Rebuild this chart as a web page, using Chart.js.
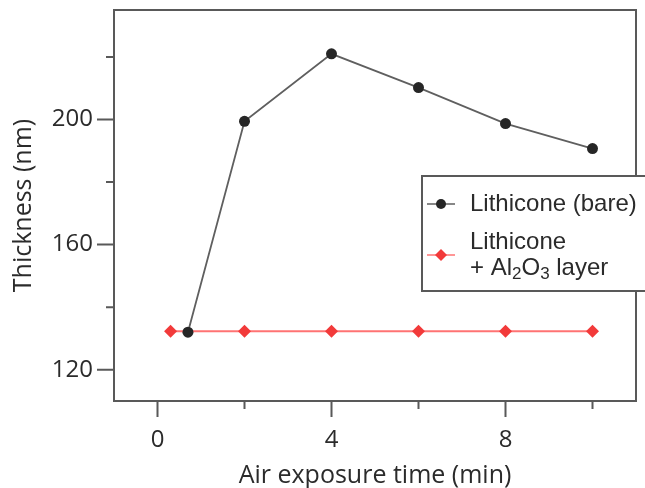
<!DOCTYPE html>
<html>
<head>
<meta charset="utf-8">
<script src="https://cdn.jsdelivr.net/npm/chart.js@4/dist/chart.umd.min.js"></script>
<style>
  html, body { margin: 0; padding: 0; background: #fff; }
  #wrap { width: 645px; height: 488px; }
</style>
</head>
<body>
<div id="wrap"><canvas id="thicknessChart"></canvas></div>
<script>
const bareTimes = [0.7, 2, 4, 6, 8, 10];
const bareThickness = [132.0, 199.4, 221.0, 210.2, 198.7, 190.7];
const coatedTimes = [0.3, 2, 4, 6, 8, 10];
const coatedThickness = [132.3, 132.3, 132.3, 132.3, 132.3, 132.3];

const xTicks = [0, 2, 4, 6, 8, 10];
const xLabeled = [0, 4, 8];
const yTicks = [120, 140, 160, 180, 200, 220];
const yLabeled = [120, 160, 200];

const colors = {
  frame: '#595959',
  text: '#2b2b2b',
  bareLine: '#5f5f5f',
  bareDot: '#262626',
  coatedLine: '#ff7373',
  coatedDot: '#f23a3a'
};

const tickFont = { family: '"Open Sans", sans-serif', size: 24 };
const titleFont = { family: '"Open Sans", sans-serif', size: 25, lineHeight: 1.0 };

// frame around the plot area plus outward tick marks of two lengths
const framePlugin = {
  id: 'frame',
  afterDraw(chart) {
    const { ctx, chartArea: a, scales } = chart;
    ctx.save();
    ctx.strokeStyle = colors.frame;
    ctx.lineWidth = 2;
    ctx.strokeRect(a.left, a.top, a.right - a.left, a.bottom - a.top);
    ctx.beginPath();
    xTicks.forEach(v => {
      const x = scales.x.getPixelForValue(v);
      const len = xLabeled.includes(v) ? 16 : 8;
      ctx.moveTo(x, a.bottom);
      ctx.lineTo(x, a.bottom + len);
    });
    yTicks.forEach(v => {
      const y = scales.y.getPixelForValue(v);
      const len = yLabeled.includes(v) ? 17 : 8;
      ctx.moveTo(a.left, y);
      ctx.lineTo(a.left - len, y);
    });
    ctx.stroke();
    ctx.restore();
  }
};

// boxed legend with a two-line entry carrying subscripts
const legendPlugin = {
  id: 'boxLegend',
  afterDraw(chart) {
    const { ctx } = chart;
    const ds = chart.data.datasets;
    const box = { x: 422, y: 176, w: 240, h: 115 };
    ctx.save();
    ctx.fillStyle = '#fff';
    ctx.fillRect(box.x, box.y, box.w, box.h);
    ctx.strokeStyle = colors.frame;
    ctx.lineWidth = 2;
    ctx.strokeRect(box.x, box.y, box.w, box.h);

    const sample = (y, line, dot, style) => {
      ctx.strokeStyle = line;
      ctx.lineWidth = 1.5;
      ctx.beginPath();
      ctx.moveTo(427, y);
      ctx.lineTo(455, y);
      ctx.stroke();
      ctx.fillStyle = dot;
      ctx.beginPath();
      if (style === 'circle') {
        ctx.arc(441, y, 5, 0, Math.PI * 2);
      } else {
        ctx.moveTo(441, y - 6);
        ctx.lineTo(447, y);
        ctx.lineTo(441, y + 6);
        ctx.lineTo(435, y);
        ctx.closePath();
      }
      ctx.fill();
    };

    sample(204, ds[0].borderColor, ds[0].pointBackgroundColor, 'circle');
    sample(255, ds[1].borderColor, ds[1].pointBackgroundColor, 'diamond');

    ctx.fillStyle = colors.text;
    ctx.textBaseline = 'middle';
    ctx.textAlign = 'left';
    const big = '24px "Liberation Sans", Arial, sans-serif';
    const small = '17px "Liberation Sans", Arial, sans-serif';
    ctx.font = big;
    ctx.fillText(ds[0].label, 470, 204);
    ctx.fillText('Lithicone', 470, 242);

    let x = 470;
    const parts = [['+ Al', big, 0], ['2', small, 6], ['O', big, 0], ['3', small, 6], [' layer', big, 0]];
    parts.forEach(([t, f, dy]) => {
      ctx.font = f;
      ctx.fillText(t, x, 268 + dy);
      x += ctx.measureText(t).width;
    });
    ctx.restore();
  }
};

new Chart(document.getElementById('thicknessChart'), {
  type: 'scatter',
  data: {
    datasets: [
      {
        label: 'Lithicone (bare)',
        data: bareTimes.map((t, i) => ({ x: t, y: bareThickness[i] })),
        showLine: true,
        borderColor: colors.bareLine,
        borderWidth: 1.8,
        pointBackgroundColor: colors.bareDot,
        pointBorderWidth: 0,
        pointRadius: 5.5,
        pointStyle: 'circle'
      },
      {
        label: 'Lithicone + Al2O3 layer',
        data: coatedTimes.map((t, i) => ({ x: t, y: coatedThickness[i] })),
        showLine: true,
        borderColor: colors.coatedLine,
        borderWidth: 1.8,
        pointBackgroundColor: colors.coatedDot,
        pointBorderWidth: 0,
        pointRadius: 6.5,
        pointStyle: 'rectRot'
      }
    ]
  },
  options: {
    responsive: true,
    maintainAspectRatio: false,
    animation: false,
    layout: { padding: { top: 10, right: 9, left: 0, bottom: 0 } },
    plugins: {
      legend: { display: false },
      tooltip: { enabled: false }
    },
    scales: {
      x: {
        type: 'linear',
        min: -1,
        max: 11,
        afterBuildTicks: (scale) => { scale.ticks = xTicks.map(v => ({ value: v })); },
        afterFit: (scale) => {
          scale.height = 87;
          scale.paddingLeft = 0;
          scale.paddingRight = 0;
        },
        grid: { display: false, drawTicks: false, tickLength: 0 },
        border: { display: false },
        ticks: {
          padding: 25,
          maxRotation: 0,
          autoSkip: false,
          color: colors.text,
          font: tickFont,
          callback: (v) => (xLabeled.includes(v) ? String(v) : '')
        },
        title: {
          display: true,
          text: 'Air exposure time (min)',
          color: colors.text,
          font: titleFont,
          padding: { top: 0, bottom: 0 }
        }
      },
      y: {
        type: 'linear',
        min: 110,
        max: 235,
        afterBuildTicks: (scale) => { scale.ticks = yTicks.map(v => ({ value: v })); },
        afterFit: (scale) => {
          scale.width = 114;
          scale.paddingTop = 0;
          scale.paddingBottom = 0;
        },
        grid: { display: false, drawTicks: false, tickLength: 0 },
        border: { display: false },
        ticks: {
          padding: 21,
          autoSkip: false,
          color: colors.text,
          font: tickFont,
          callback: (v) => (yLabeled.includes(v) ? String(v) : '')
        },
        title: {
          display: true,
          text: 'Thickness (nm)',
          color: colors.text,
          font: titleFont,
          padding: { top: 11, bottom: 0 }
        }
      }
    }
  },
  plugins: [framePlugin, legendPlugin]
});
</script>
</body>
</html>
